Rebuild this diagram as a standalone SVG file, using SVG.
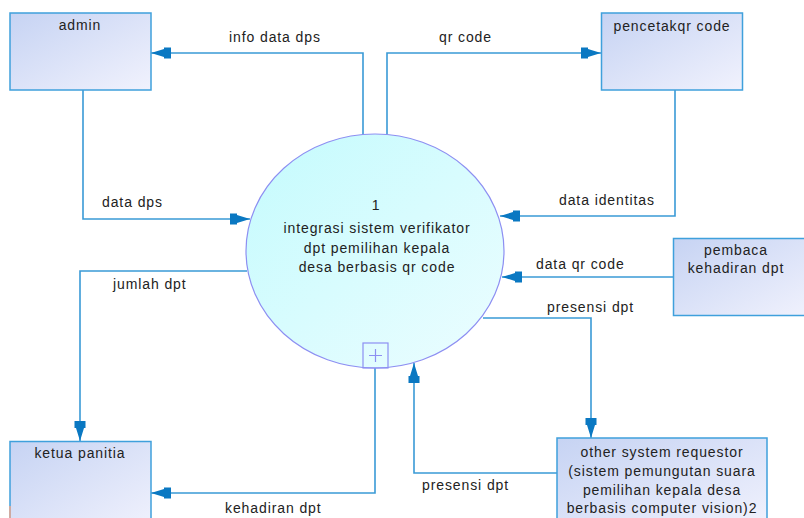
<svg xmlns="http://www.w3.org/2000/svg" width="804" height="518" viewBox="0 0 804 518">
  <defs>
    <linearGradient id="boxFill" x1="0" y1="0" x2="1" y2="1">
      <stop offset="0" stop-color="#c6d3f3"/>
      <stop offset="1" stop-color="#f1f2fd"/>
    </linearGradient>
    <linearGradient id="procFill" x1="0" y1="0" x2="1" y2="1">
      <stop offset="0" stop-color="#c4fbfd"/>
      <stop offset="1" stop-color="#ecfdff"/>
    </linearGradient>
    <marker id="arrow" viewBox="-21 -7 22 14" refX="0" refY="0" markerWidth="22" markerHeight="14" markerUnits="userSpaceOnUse" orient="auto">
      <path d="M0,0 L-13,-4 L-13,-5.5 L-20,-5.5 L-20,5.5 L-13,5.5 L-13,4 Z" fill="#0a78c2"/>
    </marker>
    <style>
      .box { fill: url(#boxFill); stroke: #3fa0dc; stroke-width: 1.5; }
      .proc { fill: url(#procFill); stroke: #8d8ff2; stroke-width: 1.2; }
      .flow { fill: none; stroke: #3a9ad6; stroke-width: 1.6; marker-end: url(#arrow); }
      text { font-family: "Liberation Sans", Arial, sans-serif; font-size: 14px; fill: #222; letter-spacing: 0.9px; }
      .c { text-anchor: middle; }
    </style>
  </defs>

  <!-- connectors -->
  <g id="connectors">
    <polyline class="flow" points="363,134 363,53 151,53"/>
    <polyline class="flow" points="387,134 387,53 601,53"/>
    <polyline class="flow" points="83,90 83,219 250,219"/>
    <polyline class="flow" points="675,90 675,216 500,216"/>
    <polyline class="flow" points="674,277 502,277"/>
    <polyline class="flow" points="483,318 591,318 591,438"/>
    <polyline class="flow" points="557,473 414,473 414,363"/>
    <polyline class="flow" points="375,368 375,493 151,493"/>
    <polyline class="flow" points="247,271 80,271 80,441"/>
    <text x="229" y="42">info data dps</text>
    <text x="439" y="42">qr code</text>
    <text x="102" y="207">data dps</text>
    <text x="559" y="205">data identitas</text>
    <text x="536" y="269">data qr code</text>
    <text x="547" y="312">presensi dpt</text>
    <text x="113" y="289">jumlah dpt</text>
    <text x="422" y="490">presensi dpt</text>
    <text x="225" y="513">kehadiran dpt</text>
  </g>

  <g id="admin">
    <rect class="box" x="10" y="13" width="141" height="77"/>
    <text class="c" x="80" y="30">admin</text>
  </g>

  <g id="pencetak-qr-code">
    <rect class="box" x="601.5" y="13" width="141" height="77"/>
    <text class="c" x="672" y="31">pencetakqr code</text>
  </g>

  <g id="pembaca-kehadiran-dpt">
    <rect class="box" x="673.5" y="238.5" width="140" height="77"/>
    <text class="c" x="736" y="255">pembaca</text>
    <text class="c" x="736" y="273">kehadiran dpt</text>
  </g>

  <g id="ketua-panitia">
    <rect class="box" x="10" y="441.5" width="141" height="90"/>
    <line x1="10" y1="506" x2="10" y2="518" stroke="#f2a98c" stroke-width="1.5"/>
    <text class="c" x="80" y="458">ketua panitia</text>
  </g>

  <g id="other-system-requestor">
    <rect class="box" x="557" y="438" width="210" height="90"/>
    <text class="c" x="662" y="457">other system requestor</text>
    <text class="c" x="662" y="476">(sistem pemungutan suara</text>
    <text class="c" x="662" y="495">pemilihan kepala desa</text>
    <text class="c" x="662" y="513">berbasis computer vision)2</text>
  </g>

  <g id="process-1">
    <ellipse class="proc" cx="375" cy="251" rx="129" ry="117"/>
    <rect x="363" y="343" width="25" height="25" fill="none" stroke="#8d8ff2" stroke-width="1.2"/>
    <path d="M375.5,349 V362 M369,355.5 H382" stroke="#8d8ff2" stroke-width="1.2" fill="none"/>
    <text class="c" x="376" y="210">1</text>
    <text class="c" x="377" y="233">integrasi sistem verifikator</text>
    <text class="c" x="377" y="253">dpt pemilihan kepala</text>
    <text class="c" x="377" y="272">desa berbasis qr code</text>
  </g>
</svg>
